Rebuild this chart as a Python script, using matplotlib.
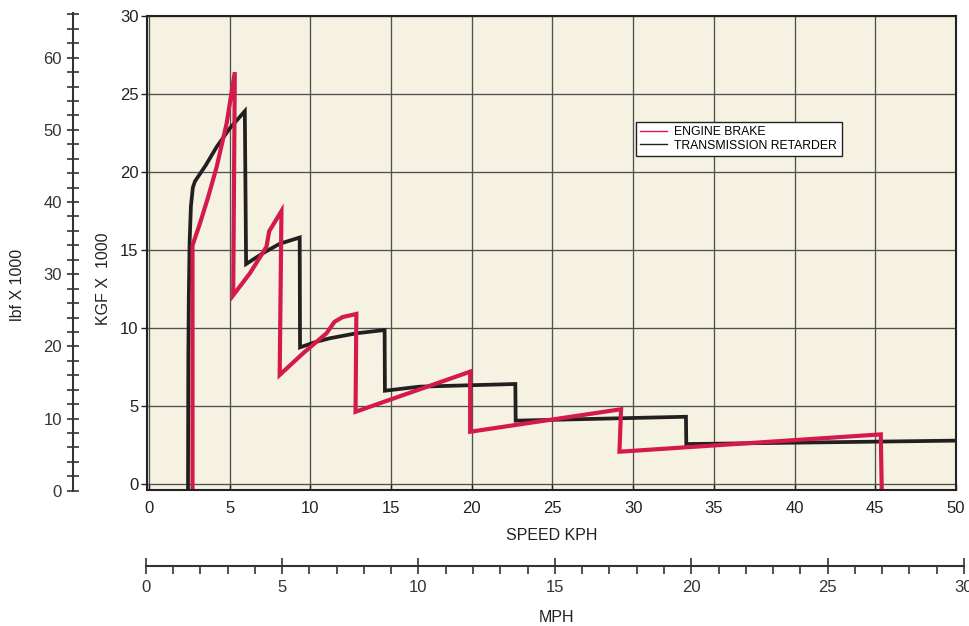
import matplotlib
matplotlib.use("Agg")
import matplotlib.pyplot as plt
from matplotlib.lines import Line2D
from matplotlib.ticker import MultipleLocator

plt.rcParams['font.family'] = ['Liberation Sans', 'DejaVu Sans']

# --- data (speed in KPH, force in KGF x 1000) ---
retarder_kph = [2.42, 2.44, 2.47, 2.52, 2.6, 2.72, 2.85, 3.5, 4.19, 5.01, 5.94,
                6.02, 7.07, 8.1, 9.34, 9.36, 10.38, 11.2, 12.85, 14.6, 14.62,
                16.77, 22.7, 22.72, 33.27, 33.29, 50.0]
retarder_kgf = [-0.4, 8.0, 12.0, 15.5, 17.8, 19.0, 19.4, 20.4, 21.6, 22.8, 23.9,
                14.1, 14.8, 15.4, 15.8, 8.76, 9.12, 9.34, 9.66, 9.87, 5.98,
                6.24, 6.41, 4.06, 4.31, 2.56, 2.78]

engine_kph = [2.7, 2.7, 3.16, 3.67, 4.19, 4.81, 5.32, 5.22, 6.25, 7.28, 7.45,
              8.21, 8.1, 9.55, 11.0, 11.5, 12.0, 12.85, 12.8, 19.9, 19.9,
              29.25, 29.15, 45.34, 45.4]
engine_kgf = [-0.4, 15.3, 16.7, 18.4, 20.3, 23.1, 26.4, 12.1, 13.5, 15.2, 16.2,
              17.5, 6.99, 8.38, 9.66, 10.4, 10.7, 10.9, 4.63, 7.2, 3.35,
              4.79, 2.07, 3.18, -0.4]

kph_ticks = [0, 5, 10, 15, 20, 25, 30, 35, 40, 45, 50]
kgf_ticks = [0, 5, 10, 15, 20, 25, 30]
lbf_ticks = [0, 10, 20, 30, 40, 50, 60]
mph_ticks = [0, 5, 10, 15, 20, 25, 30]

RED = '#d41a4b'
BLACK = '#231f20'
GRID = '#505050'
W, H = 969, 626
TICK_FS = 12
TITLE_FS = 11.5

fig = plt.figure(figsize=(W / 100, H / 100), dpi=100)


def box(l, t, r, b):
    # pixel box -> figure fraction rect
    return [l / W, 1 - b / H, (r - l) / W, (b - t) / H]


# --- main chart ---
ax = fig.add_axes(box(147, 16, 956, 490))
ax.set_facecolor('#f6f2e2')
ax.set_xlim(-0.12, 50.0)
ax.set_ylim(-0.385, 30)
ax.set_xticks(kph_ticks)
ax.set_yticks(kgf_ticks)
ax.grid(True, color=GRID, linewidth=0.95)
ax.set_axisbelow(True)
for s in ax.spines.values():
    s.set_color('#222222')
    s.set_linewidth(1.5)
ax.tick_params(axis='x', direction='in', length=4, width=1, pad=8,
               labelsize=TICK_FS, colors='#222222')
ax.tick_params(axis='y', direction='out', length=4, width=1, pad=2,
               labelsize=TICK_FS, colors='#222222')

ax.plot(retarder_kph, retarder_kgf, color=BLACK, lw=2.7,
        solid_joinstyle='miter')
ax.plot(engine_kph, engine_kgf, color=RED, lw=3.0,
        solid_joinstyle='miter')

handles = [Line2D([], [], color=RED, lw=1),
           Line2D([], [], color=BLACK, lw=1)]
leg = ax.legend(handles, ['ENGINE BRAKE', 'TRANSMISSION RETARDER'],
                loc='upper left', bbox_to_anchor=((636 - 147) / 809, 1 - (122 - 16) / 474),
                fontsize=8.8, frameon=True, fancybox=False, framealpha=1,
                edgecolor='#222222', handlelength=2.2, handletextpad=0.6,
                labelspacing=0.12, borderpad=0.35, borderaxespad=0)
leg.get_frame().set_linewidth(1)

# --- lbf scale on the far left ---
lbf = fig.add_axes(box(73, 13, 74, 490.7))
lbf.set_ylim(0, 66.2)
lbf.set_xticks([])
lbf.patch.set_visible(False)
for k in ['top', 'right', 'bottom']:
    lbf.spines[k].set_visible(False)
lbf.spines['left'].set_color('#333333')
lbf.spines['left'].set_linewidth(1.5)
lbf.set_yticks(lbf_ticks)
lbf.yaxis.set_minor_locator(MultipleLocator(2))
lbf.tick_params(axis='y', which='both', direction='inout', length=8,
                width=1.2, colors='#333333', labelsize=TICK_FS, pad=4)

# --- MPH scale at the bottom ---
mph = fig.add_axes(box(145.7, 560, 964, 565.7))
mph.set_xlim(0, 30)
mph.set_yticks([])
mph.patch.set_visible(False)
for k in ['top', 'right', 'left']:
    mph.spines[k].set_visible(False)
mph.spines['bottom'].set_color('#333333')
mph.spines['bottom'].set_linewidth(1.5)
mph.set_xticks(mph_ticks)
mph.xaxis.set_minor_locator(MultipleLocator(1))
mph.tick_params(axis='x', which='major', direction='inout', length=12,
                width=1.2, colors='#333333', labelsize=TICK_FS, pad=4)
mph.tick_params(axis='x', which='minor', direction='out', length=6,
                width=1.2, colors='#333333')

# --- axis titles ---
fig.text(552 / W, 1 - 535 / H, 'SPEED KPH', ha='center', va='center',
         fontsize=TITLE_FS, color='#222222')
fig.text(557 / W, 1 - 617 / H, 'MPH', ha='center', va='center',
         fontsize=TITLE_FS, color='#222222')
fig.text(18 / W, 1 - 285 / H, 'lbf X 1000', ha='center', va='center',
         rotation=90, fontsize=TITLE_FS, color='#222222')
fig.text(103 / W, 1 - 279 / H, 'KGF X  1000', ha='center', va='center',
         rotation=90, fontsize=TITLE_FS, color='#222222')

fig.savefig('out.png', dpi=100)
